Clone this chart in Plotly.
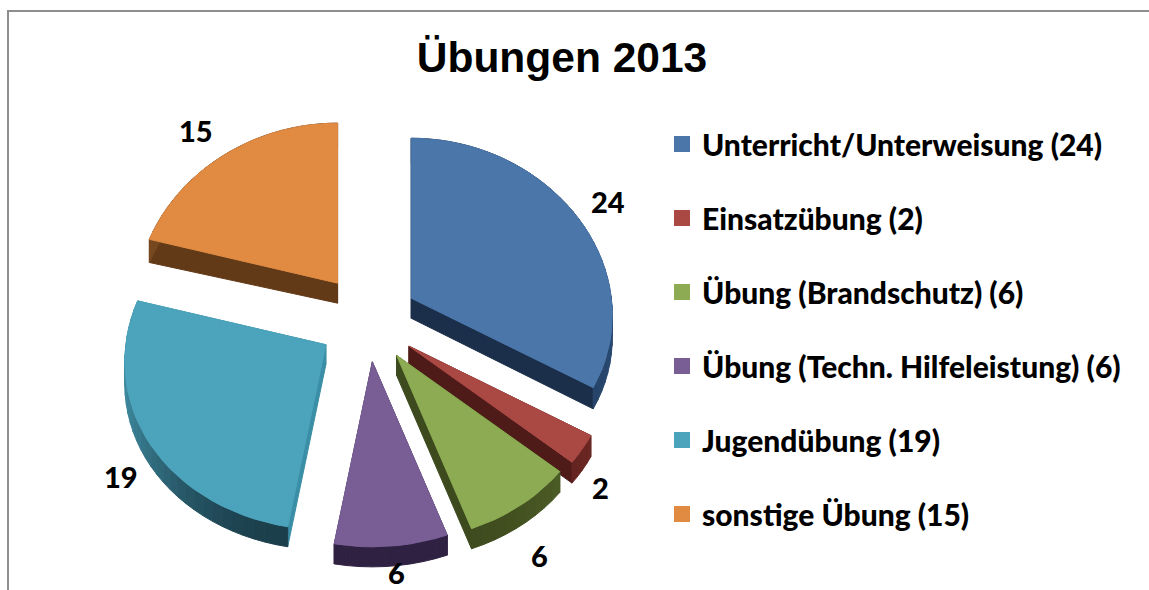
import math
import plotly.graph_objects as go

# --- data ---
categories = ["Unterricht/Unterweisung", "Einsatzübung", "Übung (Brandschutz)",
              "Übung (Techn. Hilfeleistung)", "Jugendübung", "sonstige Übung"]
values = [24, 2, 6, 6, 19, 15]
title_text = "Übungen 2013"

# --- styles ---
top_colors = ["#4a76aa", "#aa4844", "#8cab52", "#795e96", "#4ba3bc", "#e08a42"]
wall_colors = ["#1b2f4a", "#4e1b18", "#3d4a1e", "#2f2142", "#3a8ea5", "#623a18"]
rim_dark = ["#1c3450", "#4e1b18", "#3d4a1e", "#2f2142", "#1c3f4c", "#623a18"]
rim_light = ["#2a4a72", "#7a2d29", "#5a6e2d", "#2f2142", "#3e8aa0", "#7a4a20"]
label_xy = [(608, 201), (600, 487), (539, 555), (396, 572), (121, 476), (196, 130)]

FONT_NARROW = "Lato, Liberation Sans, Arial, sans-serif"
CX, CY = 368, 322
RX, K = 200, 0.10


def hex_mix(a, b, t):
    ca = [int(a[i:i + 2], 16) for i in (1, 3, 5)]
    cb = [int(b[i:i + 2], 16) for i in (1, 3, 5)]
    return "#%02x%02x%02x" % tuple(round(p + (q - p) * t) for p, q in zip(ca, cb))


def project(theta):
    s, c = math.sin(theta), -math.cos(theta)   # c > 0: towards the viewer
    return RX * s * (1 + K * c), c * (172.5 + 12.5 * c)


def depth(theta):
    return 22.5 - 2.5 * (-math.cos(theta))


def apex(mid):
    s, c = math.sin(mid), -math.cos(mid)
    return CX + 50 * s, CY + c * (45 - 5 * c)


def rim_point(ax, ay, theta):
    dx, dy = project(theta)
    return ax + dx, ay + dy


def poly(xs, ys, color, name=None, hover=None):
    return go.Scatter(x=xs + xs[:1], y=ys + ys[:1], mode="lines", fill="toself",
                      fillcolor=color, line=dict(color=color, width=1),
                      showlegend=False, name=name or "",
                      hoverinfo="text" if hover else "skip", text=hover)


fig = go.Figure()
total = sum(values)
start = 0.0
for i, (cat, val) in enumerate(zip(categories, values)):
    a0 = start
    a1 = start + val / total * 2 * math.pi
    start = a1
    ax, ay = apex((a0 + a1) / 2)
    n = max(4, int((a1 - a0) / math.radians(3)))
    thetas = [a0 + (a1 - a0) * j / n for j in range(n + 1)]
    pts = [rim_point(ax, ay, t) for t in thetas]

    # radial walls
    for t, p in ((a0, pts[0]), (a1, pts[-1])):
        d = depth(t)
        d0 = depth(math.pi)
        fig.add_trace(poly([ax, ax, p[0], p[0]], [ay, ay + d0, p[1] + d, p[1]], wall_colors[i]))
    # outer rim
    for j in range(n):
        tm = (thetas[j] + thetas[j + 1]) / 2
        t = max(0.0, (abs(math.sin(tm)) - 0.2) / 0.8) ** 2
        p, q = pts[j], pts[j + 1]
        fig.add_trace(poly([p[0], q[0], q[0], p[0]],
                           [p[1], q[1], q[1] + depth(thetas[j + 1]), p[1] + depth(thetas[j])],
                           hex_mix(rim_dark[i], rim_light[i], t)))
    # top face
    xs = [ax] + [p[0] for p in pts]
    ys = [ay] + [p[1] for p in pts]
    fig.add_trace(poly(xs, ys, top_colors[i], name=cat, hover=f"{cat}: {val}"))

# legend entries
for i, (cat, val) in enumerate(zip(categories, values)):
    fig.add_trace(go.Scatter(x=[None], y=[None], mode="markers", name=f"{cat} ({val})",
                             legendgroup=f"g{i}",
                             marker=dict(symbol="square", size=18, color=top_colors[i])))

# data labels
for val, (lx, ly) in zip(values, label_xy):
    fig.add_annotation(x=lx, y=ly, text=str(val), showarrow=False,
                       font=dict(family=FONT_NARROW, size=29, color="#000000", weight=900),
                       xanchor="center", yanchor="middle")

fig.update_layout(
    width=1149, height=590, autosize=False,
    margin=dict(l=0, r=0, t=0, b=0),
    paper_bgcolor="#ffffff", plot_bgcolor="#ffffff",
    title=dict(text=f"<b>{title_text}</b>", x=562 / 1149, xanchor="center",
               y=1 - 57 / 590, yanchor="middle",
               font=dict(family="Liberation Sans, Arial, sans-serif", size=42.5, color="#000000")),
    xaxis=dict(range=[0, 1149], visible=False, fixedrange=True),
    yaxis=dict(range=[590, 0], visible=False, fixedrange=True),
    legend=dict(x=662 / 1149, y=1 - 118 / 590, xanchor="left", yanchor="top",
                tracegroupgap=32, itemwidth=30, bgcolor="rgba(0,0,0,0)",
                font=dict(family=FONT_NARROW, size=30, color="#000000", weight=900)),
    shapes=[dict(type="path", path="M 8 590 L 8 11 L 1149 11", xref="x", yref="y",
                 line=dict(color="#8e8e8e", width=2))],
)

fig.write_html("out.html", config=dict(displayModeBar=False),
               post_script="document.body.style.margin='0';document.body.style.overflow='hidden';")
